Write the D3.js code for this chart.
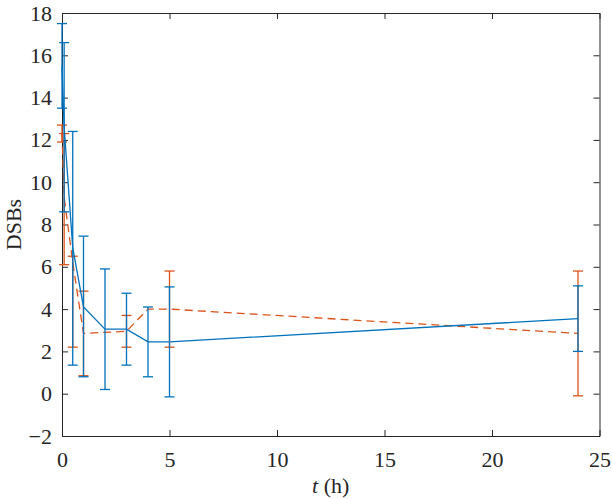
<!DOCTYPE html>
<html>
<head>
<meta charset="utf-8">
<style>
  body { margin: 0; background: #fff; }
  text { font-family: "Liberation Serif", "DejaVu Serif", serif; fill: #262626; }
</style>
</head>
<body>
<svg id="chart"></svg>
<script src="https://cdn.jsdelivr.net/npm/d3@7"></script>
<script>
  // data (mean, lower and upper end of each error bar)
  const blueT     = [0, 0.1, 0.5, 1, 2, 3, 4, 5, 24]
  const blueMean  = [15.5, 12.6, 6.9, 4.1, 3.05, 3.05, 2.45, 2.45, 3.55]
  const blueLow   = [13.5, 8.6, 1.35, 0.8, 0.2, 1.35, 0.8, -0.15, 2.0]
  const blueHigh  = [17.5, 16.6, 12.4, 7.45, 5.9, 4.75, 4.1, 5.05, 5.1]

  const orangeT    = [0, 0.1, 0.5, 1, 3, 4, 5, 24]
  const orangeMean = [12.3, 9.3, 6.2, 2.85, 2.95, 4.0, 4.0, 2.85]
  const orangeLow  = [11.9, 6.1, 2.2, 0.85, 2.2, 4.0, 2.2, -0.1]
  const orangeHigh = [12.7, 12.3, 6.5, 4.85, 3.7, 4.0, 5.8, 5.8]

  const xTicks = [0, 5, 10, 15, 20, 25]
  const yTicks = [-2, 0, 2, 4, 6, 8, 10, 12, 14, 16, 18]

  const width = 612, height = 499
  const margin = {left: 62, top: 13, right: 12.5, bottom: 63}
  const w = width - margin.left - margin.right,
        h = height - margin.top - margin.bottom

  const colors = {blue: '#0072BD', orange: '#D95319', axis: '#262626'}
  const capHalf = 5, tickLen = 6, fontSize = 22

  const svg = d3.select('#chart')
    .attr('width', width)
    .attr('height', height)

  const g = svg.append('g')
    .attr('transform', `translate(${margin.left},${margin.top})`)

  const x = d3.scaleLinear().domain([0, 25]).range([0, w])
  const y = d3.scaleLinear().domain([-2, 18]).range([h, 0])

  // axes with inward ticks on all four sides
  const axisStyle = sel => {
    sel.select('.domain').attr('stroke', colors.axis).attr('stroke-width', 1).attr('fill', 'none')
    sel.selectAll('.tick line').attr('stroke', colors.axis)
    sel.selectAll('text').attr('font-size', fontSize).attr('fill', colors.axis)
      .style('font-family', '"Liberation Serif", serif')
  }

  g.append('g')
    .attr('transform', `translate(0,${h})`)
    .call(d3.axisBottom(x).tickValues(xTicks).tickSize(-tickLen).tickSizeOuter(0).tickPadding(15))
    .call(axisStyle)

  g.append('g')
    .call(d3.axisTop(x).tickValues(xTicks).tickSize(-tickLen).tickSizeOuter(0).tickFormat(''))
    .call(axisStyle)

  g.append('g')
    .call(d3.axisLeft(y).tickValues(yTicks).tickSize(-tickLen).tickSizeOuter(0).tickPadding(10)
      .tickFormat(d => d < 0 ? '\u2212' + Math.abs(d) : d))
    .call(axisStyle)

  g.append('g')
    .attr('transform', `translate(${w},0)`)
    .call(d3.axisRight(y).tickValues(yTicks).tickSize(-tickLen).tickSizeOuter(0).tickFormat(''))
    .call(axisStyle)

  // labels
  const xl = svg.append('text')
    .attr('x', margin.left + w / 2)
    .attr('y', 493)
    .attr('text-anchor', 'middle')
    .attr('font-size', fontSize)
  xl.append('tspan').attr('font-style', 'italic').text('t')
  xl.append('tspan').text(' (h)')

  svg.append('text')
    .attr('transform', `translate(21,${margin.top + h / 2}) rotate(-90)`)
    .attr('text-anchor', 'middle')
    .attr('font-size', fontSize)
    .text('DSBs')

  function drawSeries(ts, means, lows, highs, color, dash) {
    const pts = ts.map((t, i) => ({t, m: means[i], lo: lows[i], hi: highs[i]}))
    const line = d3.line().x(d => x(d.t)).y(d => y(d.m))

    const bars = g.append('g')
      .attr('stroke', color)
      .attr('stroke-width', 1.3)
      .attr('fill', 'none')

    const withErr = pts.filter(d => d.hi > d.lo)
    bars.selectAll('.stem').data(withErr).enter().append('line')
      .attr('x1', d => x(d.t)).attr('x2', d => x(d.t))
      .attr('y1', d => y(d.lo)).attr('y2', d => y(d.hi))
    bars.selectAll('.capLo').data(withErr).enter().append('line')
      .attr('x1', d => x(d.t) - capHalf).attr('x2', d => x(d.t) + capHalf)
      .attr('y1', d => y(d.lo)).attr('y2', d => y(d.lo))
    bars.selectAll('.capHi').data(withErr).enter().append('line')
      .attr('x1', d => x(d.t) - capHalf).attr('x2', d => x(d.t) + capHalf)
      .attr('y1', d => y(d.hi)).attr('y2', d => y(d.hi))

    g.append('path')
      .datum(pts)
      .attr('d', line)
      .attr('fill', 'none')
      .attr('stroke', color)
      .attr('stroke-width', 1.3)
      .attr('stroke-dasharray', dash ? '8,5' : null)
  }

  drawSeries(orangeT, orangeMean, orangeLow, orangeHigh, colors.orange, true)
  drawSeries(blueT, blueMean, blueLow, blueHigh, colors.blue, false)
</script>
</body>
</html>
